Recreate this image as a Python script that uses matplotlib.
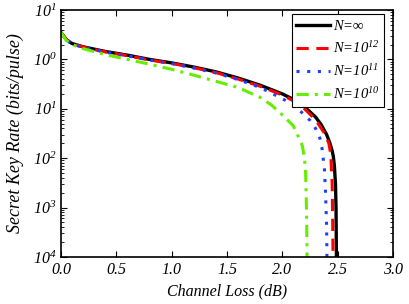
import matplotlib
matplotlib.use("Agg")
import matplotlib.pyplot as plt
from matplotlib.ticker import FixedLocator, LogLocator, NullFormatter

plt.rcParams['font.family'] = ['Liberation Serif', 'DejaVu Serif']
plt.rcParams['font.style'] = 'italic'
plt.rcParams['mathtext.fontset'] = 'custom'
plt.rcParams['mathtext.it'] = 'Liberation Serif:italic'
plt.rcParams['mathtext.rm'] = 'Liberation Serif:italic'

# data
x_inf = [0, 0.05, 0.1, 0.2, 0.4, 0.6, 0.8, 1.0, 1.2, 1.4, 1.6, 1.8, 2.0, 2.1, 2.2, 2.3, 2.35, 2.4, 2.43, 2.45, 2.46, 2.47, 2.48, 2.485, 2.49]
y_inf = [3.5, 2.5, 2.1, 1.8, 1.45, 1.22, 1.0, 0.85, 0.7, 0.56, 0.42, 0.3, 0.2, 0.155, 0.11, 0.068, 0.048, 0.03, 0.02, 0.014, 0.011, 0.007, 0.003, 0.001, 0.00003]

x_12 = [0, 0.05, 0.1, 0.2, 0.4, 0.6, 0.8, 1.0, 1.2, 1.4, 1.6, 1.8, 2.0, 2.1, 2.2, 2.3, 2.38, 2.42, 2.43, 2.44, 2.45, 2.455, 2.46]
y_12 = [3.5, 2.5, 2.1, 1.78, 1.42, 1.19, 0.97, 0.83, 0.68, 0.54, 0.4, 0.285, 0.19, 0.145, 0.1, 0.06, 0.032, 0.02, 0.015, 0.009, 0.003, 0.0005, 0.00003]

x_11 = [0, 0.05, 0.1, 0.2, 0.4, 0.6, 0.8, 1.0, 1.2, 1.4, 1.6, 1.8, 2.0, 2.1, 2.2, 2.25, 2.3, 2.34, 2.36, 2.38, 2.39, 2.40, 2.405]
y_11 = [3.5, 2.45, 2.05, 1.75, 1.4, 1.18, 0.97, 0.82, 0.67, 0.53, 0.39, 0.27, 0.16, 0.12, 0.075, 0.058, 0.04, 0.025, 0.015, 0.006, 0.002, 0.0004, 0.00003]

x_10 = [0, 0.05, 0.1, 0.2, 0.4, 0.6, 0.8, 1.0, 1.2, 1.4, 1.6, 1.8, 1.9, 2.0, 2.1, 2.18, 2.2, 2.21, 2.215, 2.22, 2.225]
y_10 = [3.5, 2.4, 2.0, 1.65, 1.25, 1.0, 0.8, 0.63, 0.48, 0.36, 0.27, 0.17, 0.12, 0.075, 0.045, 0.018, 0.01, 0.005, 0.002, 0.0005, 0.00003]

labels = [r'$N$=$\infty$', r'$N$=10$^{12}$', r'$N$=10$^{11}$', r'$N$=10$^{10}$']
xticks = [0.0, 0.5, 1.0, 1.5, 2.0, 2.5, 3.0]
xtick_labels = ['0.0', '0.5', '1.0', '1.5', '2.0', '2.5', '3.0']
yticks = [1e1, 1e0, 1e-1, 1e-2, 1e-3, 1e-4]
ytick_labels = [r'10$^{1}$', r'10$^{0}$', r'10$^{1}$', r'10$^{2}$', r'10$^{3}$', r'10$^{4}$']

fig = plt.figure(figsize=(4.09, 3.04), dpi=100)
ax = fig.add_axes([0.149, 0.155, 0.812, 0.812])

ax.plot(x_inf, y_inf, color='black', lw=2.4, ls='-', label=labels[0])
ax.plot(x_12, y_12, color='#ff0000', lw=2.2, ls=(0, (4, 2.5)), label=labels[1])
ax.plot(x_11, y_11, color='#1f3fff', lw=2.2, ls=(0, (1, 2.5)), label=labels[2])
ax.plot(x_10, y_10, color='#66ee00', lw=2.2, ls=(0, (4, 2, 1, 2)), label=labels[3])

ax.set_yscale('log')
ax.set_xlim(0, 3.0)
ax.set_ylim(1e-4, 1e1)
ax.xaxis.set_major_locator(FixedLocator(xticks))
ax.set_xticklabels(xtick_labels)
ax.yaxis.set_major_locator(FixedLocator(yticks))
ax.set_yticklabels(ytick_labels)
ax.yaxis.set_minor_locator(LogLocator(base=10, subs=range(2, 10)))
ax.yaxis.set_minor_formatter(NullFormatter())
ax.tick_params(which='both', direction='in', top=True, right=True, labelsize=11.5)
ax.tick_params(which='major', length=4, width=0.8)
ax.tick_params(which='minor', length=2, width=0.6)
for s in ax.spines.values():
    s.set_linewidth(1.2)

ax.set_xlabel('Channel Loss (dB)', fontsize=11.5, style='italic')
ax.set_ylabel('Secret Key Rate (bits/pulse)', fontsize=13, style='italic', labelpad=6)

leg = ax.legend(loc='upper right', fontsize=10.5, frameon=True, fancybox=False,
                edgecolor='black', framealpha=1, handlelength=2.3, borderaxespad=0.3,
                labelspacing=0.5, handletextpad=0.2, borderpad=0.3,
                bbox_to_anchor=(0.985, 1.0))
leg.get_frame().set_linewidth(0.8)

fig.savefig('out.png', dpi=100)
